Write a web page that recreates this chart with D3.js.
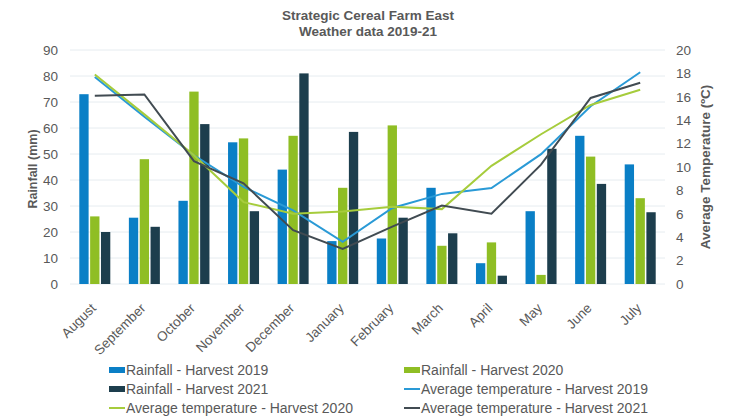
<!DOCTYPE html>
<html>
<head>
<meta charset="utf-8">
<script src="https://cdn.jsdelivr.net/npm/d3@7"></script>
<style>
  body { margin: 0; background: #fff; }
  text { font-family: "Liberation Sans", Arial, sans-serif; }
</style>
</head>
<body>
<div id="chart"></div>
<script>
var months = ["August", "September", "October", "November", "December", "January",
    "February", "March", "April", "May", "June", "July"];

var rain2019 = [73, 25.5, 32, 54.5, 44, 16.5, 17.5, 37, 8, 28, 57, 46];
var rain2020 = [26, 48, 74, 56, 57, 37, 61, 14.7, 16, 3.5, 49, 33];
var rain2021 = [20, 22, 61.5, 28, 81, 58.5, 25.5, 19.5, 3.2, 52, 38.5, 27.6];

var temp2019 = [17.7, 14.3, 11.0, 8.3, 6.3, 3.6, 6.5, 7.7, 8.2, 11.1, 15.2, 18.1];
var temp2020 = [17.9, 14.5, 11.0, 7.0, 6.0, 6.2, 6.6, 6.4, 10.1, 12.8, 15.3, 16.6];
var temp2021 = [16.1, 16.2, 10.5, 8.6, 4.6, 3.0, 4.9, 6.7, 6.0, 10.2, 15.9, 17.2];

var rainTicks = d3.range(0, 91, 10);
var tempTicks = d3.range(0, 21, 2);

var svgWidth = 731;
var svgHeight = 418;
var margin = { top: 50, right: 66, bottom: 134, left: 70 };
var width = svgWidth - margin.left - margin.right;
var height = svgHeight - margin.top - margin.bottom;

var barColors = ["#0a7fc6", "#8fbe24", "#1d3e4d"];
var lineColors = ["#2a9ad6", "#a6cc3c", "#414b52"];
var textColor = "#595959";

var svg = d3.select("#chart")
    .append("svg")
    .attr("width", svgWidth)
    .attr("height", svgHeight);

var chartGroup = svg.append("g")
    .attr("transform", `translate(${margin.left}, ${margin.top})`);

// scales
var xScale = d3.scaleBand()
    .domain(months)
    .range([0, width])
    .paddingInner(0)
    .paddingOuter(0);

var barKeys = ["r2019", "r2020", "r2021"];
var xSub = d3.scaleBand()
    .domain(barKeys)
    .range([xScale.bandwidth() / 2 - 15.5, xScale.bandwidth() / 2 + 15.5])
    .paddingInner(0.14);

var yRain = d3.scaleLinear().domain([0, 90]).range([height, 0]);
var yTemp = d3.scaleLinear().domain([0, 20]).range([height, 0]);

// gridlines
chartGroup.append("g")
    .selectAll("line")
    .data(rainTicks)
    .enter()
    .append("line")
    .attr("x1", 0)
    .attr("x2", width)
    .attr("y1", d => yRain(d))
    .attr("y2", d => yRain(d))
    .attr("stroke", "#e6ecf0")
    .attr("stroke-width", 1);

// left axis
var leftAxis = d3.axisLeft(yRain).tickValues(rainTicks).tickSize(0).tickPadding(12);
var lg = chartGroup.append("g").call(leftAxis);
lg.select(".domain").remove();
lg.selectAll("text").attr("fill", textColor).attr("font-size", 13.5);

// right axis
var rightAxis = d3.axisRight(yTemp).tickValues(tempTicks).tickSize(0).tickPadding(11);
var rg = chartGroup.append("g")
    .attr("transform", `translate(${width}, 0)`)
    .call(rightAxis);
rg.select(".domain").remove();
rg.selectAll("text").attr("fill", textColor).attr("font-size", 13.5);

// bars
var rainTable = months.map((m, i) => ({ month: m, r2019: rain2019[i], r2020: rain2020[i], r2021: rain2021[i] }));

var groups = chartGroup.selectAll(".month")
    .data(rainTable)
    .enter()
    .append("g")
    .attr("class", "month")
    .attr("transform", d => `translate(${xScale(d.month)}, 0)`);

groups.selectAll("rect")
    .data(d => barKeys.map((k, j) => ({ key: k, value: d[k], color: barColors[j] })))
    .enter()
    .append("rect")
    .attr("x", d => xSub(d.key))
    .attr("width", xSub.bandwidth())
    .attr("y", d => yRain(d.value))
    .attr("height", d => height - yRain(d.value))
    .attr("fill", d => d.color);

// temperature lines
var tempLine = d3.line()
    .x((d, i) => xScale(months[i]) + xScale.bandwidth() / 2)
    .y(d => yTemp(d));

[temp2019, temp2020, temp2021].forEach(function (series, j) {
    chartGroup.append("path")
        .datum(series)
        .attr("d", tempLine)
        .attr("fill", "none")
        .attr("stroke", lineColors[j])
        .attr("stroke-width", 2);
});

// x axis labels
var bottomAxis = d3.axisBottom(xScale).tickSize(0).tickPadding(0);
var bg = chartGroup.append("g")
    .attr("transform", `translate(0, ${height})`)
    .call(bottomAxis);
bg.select(".domain").remove();
bg.selectAll("text")
    .attr("fill", textColor)
    .attr("font-size", 13.5)
    .attr("text-anchor", "end")
    .attr("dy", 0)
    .attr("transform", "translate(2, 25) rotate(-45)");

// axis titles
svg.append("text")
    .attr("transform", `translate(37, ${margin.top + height / 2 + 2}) rotate(-90)`)
    .attr("text-anchor", "middle")
    .attr("fill", textColor)
    .attr("font-size", 12.5)
    .attr("font-weight", "bold")
    .text("Rainfall (mm)");

svg.append("text")
    .attr("transform", `translate(710, ${margin.top + height / 2}) rotate(-90)`)
    .attr("text-anchor", "middle")
    .attr("fill", textColor)
    .attr("font-size", 13.5)
    .attr("font-weight", "bold")
    .text("Average Temperature (ºC)");

// title
svg.append("text")
    .attr("x", 368)
    .attr("y", 20)
    .attr("text-anchor", "middle")
    .attr("fill", textColor)
    .attr("font-size", 13.5)
    .attr("font-weight", "bold")
    .text("Strategic Cereal Farm East");

svg.append("text")
    .attr("x", 368)
    .attr("y", 36)
    .attr("text-anchor", "middle")
    .attr("fill", textColor)
    .attr("font-size", 13.5)
    .attr("font-weight", "bold")
    .text("Weather data 2019-21");

// legend
var legendItems = [
    { label: "Rainfall - Harvest 2019", type: "bar", color: barColors[0] },
    { label: "Rainfall - Harvest 2020", type: "bar", color: barColors[1] },
    { label: "Rainfall - Harvest 2021", type: "bar", color: barColors[2] },
    { label: "Average temperature - Harvest 2019", type: "line", color: lineColors[0] },
    { label: "Average temperature - Harvest 2020", type: "line", color: lineColors[1] },
    { label: "Average temperature - Harvest 2021", type: "line", color: lineColors[2] }
];

var legend = svg.append("g");
var items = legend.selectAll("g")
    .data(legendItems)
    .enter()
    .append("g")
    .attr("transform", (d, i) => `translate(${i % 2 === 0 ? 109 : 404}, ${370 + Math.floor(i / 2) * 19})`);

items.filter(d => d.type === "bar")
    .append("rect")
    .attr("x", 0)
    .attr("y", -3)
    .attr("width", 16)
    .attr("height", 6)
    .attr("fill", d => d.color);

items.filter(d => d.type === "line")
    .append("line")
    .attr("x1", 0)
    .attr("x2", 16)
    .attr("y1", 0)
    .attr("y2", 0)
    .attr("stroke", d => d.color)
    .attr("stroke-width", 2);

items.append("text")
    .attr("x", 17)
    .attr("y", 0)
    .attr("dy", "0.35em")
    .attr("fill", textColor)
    .attr("font-size", 14)
    .text(d => d.label);
</script>
</body>
</html>
